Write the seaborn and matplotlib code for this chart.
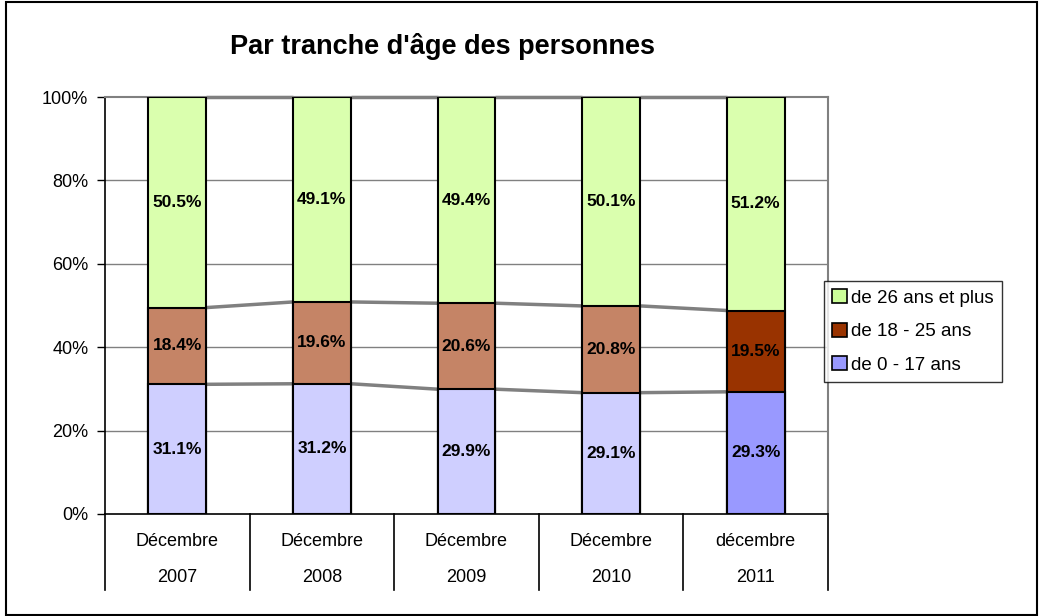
import numpy as np
import pandas as pd
import seaborn as sns
import matplotlib.pyplot as plt
from matplotlib.patches import Rectangle, Patch
import matplotlib.transforms as mtransforms

# --- données ---
mois = ['Décembre', 'Décembre', 'Décembre', 'Décembre', 'décembre']
annees = ['2007', '2008', '2009', '2010', '2011']
age_0_17 = [31.1, 31.2, 29.9, 29.1, 29.3]
age_18_25 = [18.4, 19.6, 20.6, 20.8, 19.5]
age_26_plus = [50.5, 49.1, 49.4, 50.1, 51.2]

series = ['de 26 ans et plus', 'de 18 - 25 ans', 'de 0 - 17 ans']
couleurs_legende = ['#CCFF99', '#993300', '#9999FF']
# les 4 premières années sont tramées (plus claires), 2011 est pleine
couleurs_trame = ['#DAFFAE', '#C58466', '#CFCFFF']
couleurs_pleines = ['#DAFFAE', '#993300', '#9999FF']

df = pd.DataFrame({'periode': annees, 'bleu': age_0_17,
                   'brun': age_18_25, 'vert': age_26_plus})
# graphique empilé à 100 % : on normalise chaque colonne
total = df['bleu'] + df['brun'] + df['vert']
df['cum1'] = df['bleu'] / total * 100
df['cum2'] = (df['bleu'] + df['brun']) / total * 100
df['cum3'] = 100.0

plt.rcParams['font.family'] = ['Liberation Sans', 'DejaVu Sans']

fig = plt.figure(figsize=(10.4, 6.16), dpi=100)
ax = fig.add_axes([105 / 1040, 102 / 616, 723 / 1040, 417 / 616])

# barres empilées : on dessine la hauteur cumulée, de la plus haute à la plus basse
couches = [('cum3', 0), ('cum2', 1), ('cum1', 2)]
for col, k in couches:
    pal = [couleurs_trame[k]] * 4 + [couleurs_pleines[k]]
    sns.barplot(data=df, x='periode', y=col, hue='periode', palette=pal,
                width=0.4, edgecolor='black', linewidth=1.5, legend=False,
                saturation=1, ax=ax, zorder=3)

# lignes de séries entre les barres
x = np.arange(len(annees))
for col in ['cum1', 'cum2', 'cum3']:
    y = df[col].values
    for i in range(len(x) - 1):
        ax.plot([x[i] + 0.2, x[i + 1] - 0.2], [y[i], y[i + 1]],
                color='#808080', linewidth=2.5, zorder=2,
                solid_capstyle='butt', clip_on=False)

# étiquettes de valeurs
for i in range(len(x)):
    bas = [0, df['cum1'][i], df['cum2'][i]]
    haut = [df['cum1'][i], df['cum2'][i], 100]
    for b, h, v in zip(bas, haut, [age_0_17[i], age_18_25[i], age_26_plus[i]]):
        ax.text(x[i], (b + h) / 2, f'{v}%', ha='center', va='center',
                fontsize=12.5, fontweight='bold', zorder=5)

# axes
ax.set_xlim(-0.5, 4.5)
ax.set_ylim(0, 100)
ax.set_yticks(range(0, 101, 20))
ax.set_yticklabels([f'{v}%' for v in range(0, 101, 20)])
ax.tick_params(axis='y', direction='out', length=6, width=1, labelsize=13, pad=6)
ax.tick_params(axis='x', length=0, labelbottom=False)
ax.set_xlabel('')
ax.set_ylabel('')
for v in range(20, 100, 20):
    ax.axhline(v, color='#808080', linewidth=1, zorder=1)
ax.spines['left'].set_color('black')
ax.spines['bottom'].set_color('black')
ax.spines['top'].set_color('#808080')
ax.spines['right'].set_color('#808080')
for s in ax.spines.values():
    s.set_linewidth(1.2)
ax.spines['top'].set_linewidth(1.5)
ax.spines['right'].set_linewidth(1.5)

# étiquettes d'axe x à deux niveaux avec séparateurs
trans = mtransforms.blended_transform_factory(ax.transData, ax.transAxes)
for b in np.arange(-0.5, 5, 1):
    ax.plot([b, b], [0, -0.183], color='black', linewidth=1.2,
            transform=trans, clip_on=False)
for i in range(len(x)):
    ax.text(x[i], -0.065, mois[i], transform=trans, ha='center', va='center',
            fontsize=13)
    ax.text(x[i], -0.153, annees[i], transform=trans, ha='center', va='center',
            fontsize=13)

# titre
fig.text(442 / 1040, 1 - 47 / 616, "Par tranche d'âge des personnes",
         ha='center', va='center', fontsize=19.5, fontweight='bold')

# légende
handles = [Patch(facecolor=c, edgecolor='black', linewidth=1.2)
           for c in couleurs_legende]
leg = fig.legend(handles, series, loc='upper left',
                 bbox_to_anchor=(824 / 1040, 1 - 281 / 616),
                 fontsize=13.5, frameon=True, fancybox=False,
                 handlelength=0.75, handleheight=0.75, handletextpad=0.25,
                 labelspacing=0.85, borderpad=0.45, borderaxespad=0)
leg.get_frame().set_edgecolor('black')
leg.get_frame().set_linewidth(1)

# cadre extérieur
fig.patches.append(Rectangle((6 / 1040, 1 / 616), 1031 / 1040, 613 / 616,
                             transform=fig.transFigure, fill=False,
                             edgecolor='black', linewidth=1.5))

fig.savefig('out.png', dpi=100)
